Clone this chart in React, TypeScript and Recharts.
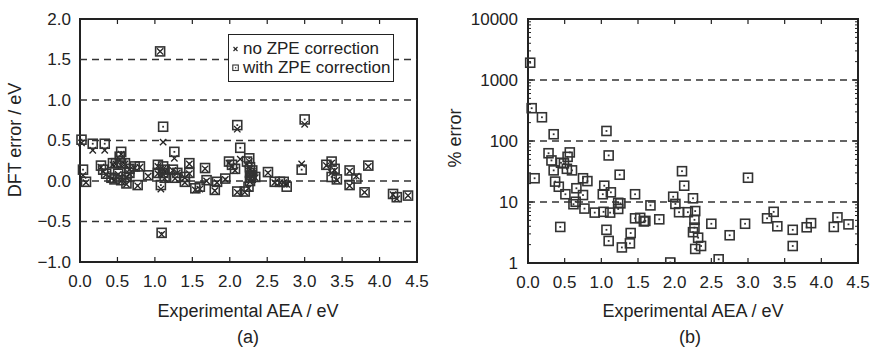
import React from "react";
import {
  ScatterChart,
  Scatter,
  XAxis,
  YAxis,
  ReferenceLine,
  ReferenceArea,
  Legend,
} from "recharts";

const INK = "#222";
const FONT = '"Liberation Sans", Arial, Helvetica, sans-serif';

// ---- panel (a): DFT error vs experimental AEA ----
const aeaA = [
  0.02, 0.04, 0.08, 0.17, 0.33, 0.28, 0.31, 0.35, 0.42, 0.44, 0.48, 0.53, 0.55,
  0.55, 0.6, 0.51, 0.46, 0.55, 0.62, 0.62, 0.66, 0.66, 0.73, 0.77, 0.8, 0.91,
  1.04, 1.04, 1.07, 1.08, 1.09, 1.11, 1.11, 1.11, 1.13, 1.13, 1.24, 1.26, 1.27,
  1.3, 1.4, 1.4, 1.46, 1.46, 1.54, 1.6, 1.67, 1.69, 1.8, 1.83, 1.94, 1.99, 2.03,
  2.07, 2.1, 2.1, 2.14, 2.2, 2.23, 2.26, 2.27, 2.27, 2.28, 2.27, 2.29, 2.3,
  2.34, 2.25, 2.51, 2.6, 2.67, 2.72, 2.76, 2.96, 3.0, 3.29, 3.36, 3.4, 3.36,
  3.43, 3.6, 3.6, 3.69, 3.85, 3.8, 4.18, 4.23, 4.38,
];
const errNoZpe = [
  0.47, 0.07, -0.02, 0.38, 0.38, 0.17, 0.12, 0.08, 0.03, 0.2, 0.21, 0.26, 0.33,
  0.19, 0.21, 0.08, 0.01, 0.0, 0.04, -0.04, 0.09, 0.14, 0.16, -0.06, 0.17, 0.06,
  0.18, 0.09, 1.6, -0.1, -0.66, 0.48, 0.15, 0.08, 0.03, 0.12, 0.13, 0.28, 0.03,
  0.1, 0.04, -0.02, 0.21, 0.09, -0.11, -0.1, 0.15, 0.0, -0.12, -0.02, 0.02, 0.22,
  0.18, 0.13, 0.64, -0.14, 0.27, -0.14, 0.21, 0.24, 0.15, 0.08, 0.03, -0.01,
  0.06, 0.12, 0.04, -0.09, 0.1, -0.02, -0.02, -0.02, -0.04, 0.21, 0.7, 0.19,
  0.22, 0.13, 0.1, 0.01, 0.12, -0.06, 0.06, 0.18, -0.14, -0.17, -0.22, -0.18,
];
const errWithZpe = [
  0.51, 0.14, -0.01, 0.46, 0.46, 0.19, 0.14, 0.09, 0.04, 0.22, 0.22, 0.3, 0.36,
  0.22, 0.22, 0.09, 0.02, 0.01, 0.05, -0.03, 0.1, 0.15, 0.18, -0.05, 0.18, 0.07,
  0.2, 0.1, 1.6, -0.05, -0.64, 0.67, 0.18, 0.1, 0.04, 0.14, 0.14, 0.36, 0.04,
  0.1, 0.05, -0.01, 0.22, 0.1, -0.09, -0.07, 0.16, 0.01, -0.11, -0.01, 0.03,
  0.24, 0.2, 0.15, 0.69, -0.13, 0.41, -0.13, 0.24, 0.28, 0.17, 0.1, 0.04, 0.0,
  0.07, 0.13, 0.05, -0.07, 0.11, -0.01, -0.01, -0.01, -0.07, 0.14, 0.76, 0.2,
  0.24, 0.15, 0.05, 0.02, 0.13, -0.05, 0.03, 0.19, -0.14, -0.16, -0.2, -0.18,
];
const xTicks = [0, 0.5, 1, 1.5, 2, 2.5, 3, 3.5, 4, 4.5];
const yTicksA = [-1, -0.5, 0, 0.5, 1, 1.5, 2];
const dashedA = [-0.5, 0, 0.5, 1, 1.5];

// ---- panel (b): % error vs experimental AEA (log) ----
const aeaB = [
  0.03, 0.05, 0.09, 0.19, 0.28, 0.32, 0.35, 0.35, 0.37, 0.42, 0.44, 0.45, 0.49,
  0.51, 0.53, 0.54, 0.57, 0.6, 0.62, 0.65, 0.66, 0.75, 0.75, 0.77, 0.81, 0.91,
  1.02, 1.03, 1.04, 1.07, 1.07, 1.1, 1.1, 1.12, 1.13, 1.23, 1.23, 1.25, 1.26,
  1.28, 1.39, 1.4, 1.46, 1.46, 1.53, 1.58, 1.6, 1.67, 1.79, 1.94, 1.98, 2.01,
  2.06, 2.1, 2.13, 2.18, 2.25, 2.28, 2.27, 2.27, 2.25, 2.32, 2.36, 2.28, 2.5,
  2.6, 2.75, 2.96, 3.0, 3.26, 3.35, 3.4, 3.61, 3.61, 3.8, 3.86, 4.17, 4.22, 4.37,
];
const pctError = [
  1920, 345, 24.5, 245, 63, 48, 129, 33, 21.6, 17.8, 3.9, 44, 43, 13.4, 35, 55,
  65, 33, 9.2, 10.1, 16.8, 13, 24.5, 7.8, 22, 6.7, 13.4, 6.9, 18.5, 146, 3.5, 58,
  2.3, 6.7, 14.4, 9.7, 7.7, 28, 9.5, 1.8, 2.1, 3.1, 13.4, 5.4, 5.5, 4.8, 4.9,
  8.8, 5.2, 1.02, 12.2, 9.3, 6.8, 32, 18.5, 6.8, 11.5, 7.1, 5.1, 3.8, 3.2, 2.6,
  1.9, 1.7, 4.4, 1.15, 2.85, 4.4, 25, 5.4, 6.9, 4.0, 3.5, 1.9, 3.85, 4.5, 3.9,
  5.6, 4.3,
];
const yMajorB = [1, 10, 100, 1000, 10000];
const dashedB = [10, 100, 1000];

const dataNo = aeaA.map((x, i) => ({ x, y: errNoZpe[i] }));
const dataWith = aeaA.map((x, i) => ({ x, y: errWithZpe[i] }));
const dataB = aeaB.map((x, i) => ({ x, y: pctError[i] }));

// minor log ticks 1..9 per decade
const yTicksB: number[] = [];
yMajorB.slice(0, -1).forEach((d) => {
  for (let k = 1; k < 10; k++) yTicksB.push(d * k);
});
yTicksB.push(yMajorB[yMajorB.length - 1]);

const PLOT_TOP = 19;

// square with a centre dot; `box` is the outer edge in px
const squareMark = (box: number) => (props: any) => {
  const { cx, cy } = props;
  if (cx == null || cy == null) return <g />;
  const h = box / 2;
  return (
    <g>
      <rect x={cx - h} y={cy - h} width={box} height={box} fill="none" stroke="#333" strokeWidth={1.6} />
      <rect x={cx - 0.9} y={cy - 0.9} width={1.8} height={1.8} fill="#333" />
    </g>
  );
};

const crossMark = (props: any) => {
  const { cx, cy } = props;
  if (cx == null || cy == null) return <g />;
  const h = 3.2;
  return (
    <g stroke={INK} strokeWidth={1.3}>
      <line x1={cx - h} y1={cy - h} x2={cx + h} y2={cy + h} />
      <line x1={cx - h} y1={cy + h} x2={cx + h} y2={cy - h} />
    </g>
  );
};

// bottom tick: label + inward tick on bottom and top edges
const XTick = ({ x, y, payload }: any) => {
  const axisY = y - 8;
  return (
    <g>
      <line x1={x} x2={x} y1={axisY} y2={axisY - 5} stroke={INK} strokeWidth={1.2} />
      <line x1={x} x2={x} y1={PLOT_TOP} y2={PLOT_TOP + 5} stroke={INK} strokeWidth={1.2} />
      <text x={x} y={axisY + 19} textAnchor="middle" dominantBaseline="central" fill={INK} fontSize={17} fontFamily={FONT}>
        {payload.value.toFixed(1)}
      </text>
    </g>
  );
};

const YTickA = ({ x, y, payload }: any) => {
  const v = payload.value;
  const label = v < 0 ? "\u2212" + Math.abs(v).toFixed(1) : v.toFixed(1);
  return (
    <text x={x} y={y} textAnchor="end" dominantBaseline="central" fill={INK} fontSize={17} fontFamily={FONT}>
      {label}
    </text>
  );
};

const PLOT_RIGHT_B = 423;
const YTickB = ({ x, y, payload }: any) => {
  const v = payload.value;
  const major = yMajorB.includes(v);
  const axisX = x + 10;
  const len = major ? 5 : 3;
  return (
    <g>
      <line x1={axisX} x2={axisX + len} y1={y} y2={y} stroke={INK} strokeWidth={1} />
      <line x1={PLOT_RIGHT_B - len} x2={PLOT_RIGHT_B} y1={y} y2={y} stroke={INK} strokeWidth={1} />
      {major && (
        <text x={x} y={y} textAnchor="end" dominantBaseline="central" fill={INK} fontSize={17} fontFamily={FONT}>
          {v}
        </text>
      )}
    </g>
  );
};

const LegendBox = ({ payload }: any) => (
  <div
    style={{
      border: `1.5px solid ${INK}`,
      background: "#fff",
      boxSizing: "border-box",
      width: 166,
      height: 48,
      padding: "4px 0 0 3px",
      fontFamily: FONT,
      fontSize: 17,
      color: INK,
      lineHeight: "19px",
    }}
  >
    {(payload || []).map((p: any, i: number) => (
      <div key={p.value} style={{ display: "flex", alignItems: "center", whiteSpace: "nowrap" }}>
        <svg width={8} height={10} style={{ marginRight: 3 }}>
          {i === 0 ? (
            <g stroke={INK} strokeWidth={1.1}>
              <line x1={1.5} y1={3} x2={5.5} y2={7} />
              <line x1={1.5} y1={7} x2={5.5} y2={3} />
            </g>
          ) : (
            <g>
              <rect x={0.8} y={2} width={5.5} height={5.5} fill="none" stroke="#333" strokeWidth={1.1} />
              <rect x={3} y={4.2} width={1.2} height={1.2} fill="#333" />
            </g>
          )}
        </svg>
        <span>{p.value}</span>
      </div>
    ))}
  </div>
);

const titleStyle: React.CSSProperties = {
  position: "absolute",
  fontFamily: FONT,
  fontSize: 18,
  color: INK,
  whiteSpace: "nowrap",
  transform: "translate(-50%, -50%)",
};

export default function App() {
  return (
    <div style={{ position: "absolute", left: 0, top: 0, width: 870, height: 347, background: "#fff", overflow: "hidden" }}>
      {/* (a) */}
      <div style={{ position: "absolute", left: 0, top: 0 }}>
        <ScatterChart width={430} height={347} margin={{ top: PLOT_TOP, right: 13, left: 20, bottom: 45 }}>
          <XAxis
            type="number"
            dataKey="x"
            domain={[0, 4.5]}
            ticks={xTicks}
            interval={0}
            height={40}
            axisLine={false}
            tickLine={false}
            tickSize={0}
            tickMargin={8}
            tick={<XTick />}
          />
          <YAxis
            type="number"
            dataKey="y"
            domain={[-1, 2]}
            ticks={yTicksA}
            interval={0}
            width={60}
            axisLine={false}
            tickLine={false}
            tickSize={0}
            tickMargin={9}
            tick={<YTickA />}
          />
          {dashedA.map((v) => (
            <ReferenceLine key={v} y={v} stroke="#333" strokeWidth={1.4} strokeDasharray="7 5" />
          ))}
          <ReferenceArea x1={0} x2={4.5} y1={-1} y2={2} fill="none" stroke={INK} strokeWidth={2} ifOverflow="visible" />
          <Scatter name="no ZPE correction" data={dataNo} shape={crossMark} isAnimationActive={false} />
          <Scatter name="with ZPE correction" data={dataWith} shape={squareMark(9)} isAnimationActive={false} />
          <Legend
            layout="vertical"
            align="center"
            verticalAlign="middle"
            content={<LegendBox />}
            wrapperStyle={{ left: 228, top: 34, width: 166, height: 48 }}
          />
        </ScatterChart>
      </div>

      {/* (b) */}
      <div style={{ position: "absolute", left: 435, top: 0 }}>
        <ScatterChart width={435} height={347} margin={{ top: PLOT_TOP, right: 12, left: 33, bottom: 44 }}>
          <XAxis
            type="number"
            dataKey="x"
            domain={[0, 4.5]}
            ticks={xTicks}
            interval={0}
            height={40}
            axisLine={false}
            tickLine={false}
            tickSize={0}
            tickMargin={8}
            tick={<XTick />}
          />
          <YAxis
            type="number"
            dataKey="y"
            scale="log"
            domain={[1, 10000]}
            allowDataOverflow
            ticks={yTicksB}
            interval={0}
            width={60}
            axisLine={false}
            tickLine={false}
            tickSize={0}
            tickMargin={10}
            tick={<YTickB />}
          />
          {dashedB.map((v) => (
            <ReferenceLine key={v} y={v} stroke="#333" strokeWidth={1.4} strokeDasharray="7 5" />
          ))}
          <ReferenceArea x1={0} x2={4.5} y1={1} y2={10000} fill="none" stroke={INK} strokeWidth={2} ifOverflow="visible" />
          <Scatter name="% error" data={dataB} shape={squareMark(9)} isAnimationActive={false} />
        </ScatterChart>
      </div>

      <div style={{ ...titleStyle, left: 248, top: 311 }}>Experimental AEA / eV</div>
      <div style={{ ...titleStyle, left: 248, top: 337 }}>(a)</div>
      <div style={{ ...titleStyle, left: 693, top: 311 }}>Experimental AEA / eV</div>
      <div style={{ ...titleStyle, left: 690, top: 337 }}>(b)</div>
      <div style={{ ...titleStyle, left: 15, top: 140, transform: "translate(-50%, -50%) rotate(-90deg)" }}>DFT error / eV</div>
      <div style={{ ...titleStyle, left: 455, top: 138, transform: "translate(-50%, -50%) rotate(-90deg)" }}>% error</div>
    </div>
  );
}
